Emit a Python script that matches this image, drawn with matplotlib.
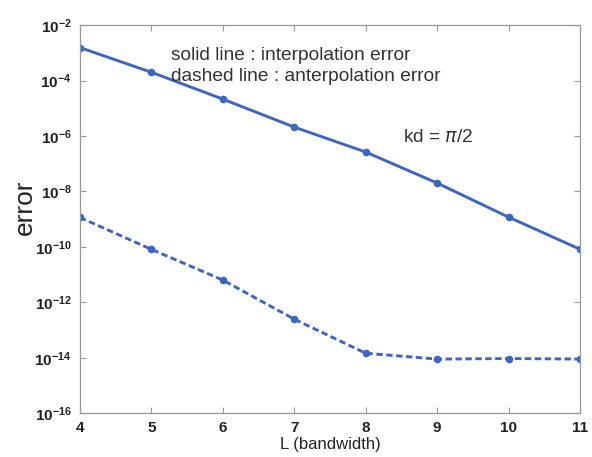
import matplotlib
matplotlib.use("Agg")
import matplotlib.pyplot as plt
import numpy as np

plt.rcParams['font.family'] = ['Liberation Sans', 'DejaVu Sans']

L = [4, 5, 6, 7, 8, 9, 10, 11]
log_interp = [-2.81, -3.70, -4.67, -5.68, -6.58, -7.70, -8.93, -10.09]
log_anterp = [-8.94, -10.09, -11.20, -12.61, -13.84, -14.05, -14.03, -14.05]
interp_err = [10 ** v for v in log_interp]
anterp_err = [10 ** v for v in log_anterp]
ytick_exps = [-16, -14, -12, -10, -8, -6, -4, -2]

color = '#3d66c2'

fig = plt.figure(figsize=(5.92, 4.57), dpi=100)
ax = fig.add_axes([0.135, 0.096, 0.845, 0.849])

ax.semilogy(L, interp_err, '-', color=color, lw=2.1, marker='o', ms=4.5)
ax.semilogy(L, anterp_err, '--', color=color, lw=2.1, marker='o', ms=4.5,
            dashes=(2.2, 1.2))

ax.set_xlim(4, 11)
ax.set_ylim(1e-16, 1e-2)
ax.set_xticks(L)
ax.set_xticklabels([str(v) for v in L])
ax.set_yticks([10.0 ** e for e in ytick_exps])
ax.set_yticklabels([r'$\mathregular{10^{%d}}$' % e for e in ytick_exps])
ax.minorticks_off()
ax.yaxis.set_minor_locator(matplotlib.ticker.NullLocator())

ax.tick_params(direction='in', top=True, right=True, length=4, width=0.8,
               color='#999999', labelsize=11, pad=6)
for s in ax.spines.values():
    s.set_color('#999999')
    s.set_linewidth(0.9)
for lab in ax.get_xticklabels() + ax.get_yticklabels():
    lab.set_fontweight('bold')
    lab.set_color('#222222')

ax.set_xlabel('L (bandwidth)', fontsize=12, labelpad=1, color='#222222')
ax.set_ylabel('error', fontsize=19, color='#222222', va='center')
ax.yaxis.set_label_coords(-0.11, 0.53)

ax.text(0.183, 0.921, 'solid line : interpolation error', transform=ax.transAxes,
        fontsize=13.8, color='#333333', va='center')
ax.text(0.183, 0.867, 'dashed line : anterpolation error', transform=ax.transAxes,
        fontsize=13.8, color='#333333', va='center')
ax.text(0.646, 0.71, r'kd = $\pi$/2', transform=ax.transAxes,
        fontsize=13.8, color='#333333', va='center')

fig.savefig('out.png', dpi=100)
